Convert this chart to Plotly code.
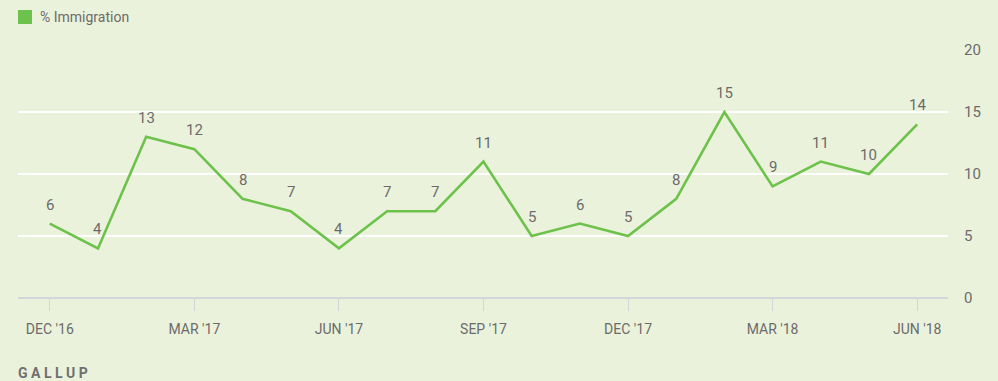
import plotly.graph_objects as go

# Monthly share naming immigration as the most important problem
months = ["DEC '16", "JAN '17", "FEB '17", "MAR '17", "APR '17", "MAY '17", "JUN '17",
          "JUL '17", "AUG '17", "SEP '17", "OCT '17", "NOV '17", "DEC '17", "JAN '18",
          "FEB '18", "MAR '18", "APR '18", "MAY '18", "JUN '18"]
immigration = [6, 4, 13, 12, 8, 7, 4, 7, 7, 11, 5, 6, 5, 8, 15, 9, 11, 10, 14]
tick_labels = ["DEC '16", "MAR '17", "JUN '17", "SEP '17", "DEC '17", "MAR '18", "JUN '18"]
y_ticks = [0, 5, 10, 15, 20]

BG = "#ebf2dc"
GREEN = "#6cc24a"
TEXT = "#6b6b6b"
FONT = "Roboto, Arial, sans-serif"

x_idx = list(range(len(months)))
tick_idx = [months.index(t) for t in tick_labels]

fig = go.Figure()
fig.add_trace(go.Scatter(
    x=x_idx, y=immigration, mode="lines",
    line=dict(color=GREEN, width=2.6),
    hoverinfo="skip", showlegend=False,
))

# value labels above each point
for xi, v in zip(x_idx, immigration):
    fig.add_annotation(x=xi, y=v, text=str(v), showarrow=False, yshift=19,
                       font=dict(family=FONT, size=15, color=TEXT))

W, H = 998, 381
ml, mr, mt, mb = 18, 50, 50, 83
pw, ph = W - ml - mr, H - mt - mb


def px(x):
    return (x - ml) / pw


def py(y):
    return (H - mb - y) / ph


# legend swatch and label
fig.add_shape(type="rect", xref="paper", yref="paper",
              x0=px(18), x1=px(32), y0=py(24), y1=py(10),
              fillcolor=GREEN, line=dict(width=0))
fig.add_annotation(xref="paper", yref="paper", x=px(38), y=py(17),
                   xanchor="left", yanchor="middle", showarrow=False,
                   text="% Immigration", font=dict(family=FONT, size=14, color=TEXT))
fig.add_annotation(xref="paper", yref="paper", x=px(16), y=py(373),
                   xanchor="left", yanchor="middle", showarrow=False,
                   text="<b>G A L L U P</b>",
                   font=dict(family=FONT, size=14, color="#707070"))

fig.update_layout(
    width=W, height=H,
    margin=dict(l=ml, r=mr, t=mt, b=mb),
    paper_bgcolor=BG, plot_bgcolor=BG,
    font=dict(family=FONT, color=TEXT),
    xaxis=dict(
        range=[-0.66, 18.64], tickvals=tick_idx, ticktext=tick_labels,
        showgrid=False, zeroline=False, showline=False,
        ticks="outside", ticklen=12, tickwidth=1, tickcolor="#d3d7dc",
        ticklabelstandoff=6,
        tickfont=dict(size=14, color=TEXT), fixedrange=True,
    ),
    yaxis=dict(
        range=[0, 20], tickvals=y_ticks, side="right",
        showgrid=True, gridcolor="#ffffff", gridwidth=2,
        zeroline=True, zerolinecolor="#d3d7dc", zerolinewidth=2,
        showline=False, ticks="", ticklabelstandoff=15,
        tickfont=dict(size=15, color=TEXT), fixedrange=True,
    ),
)

fig.write_html("out.html")
